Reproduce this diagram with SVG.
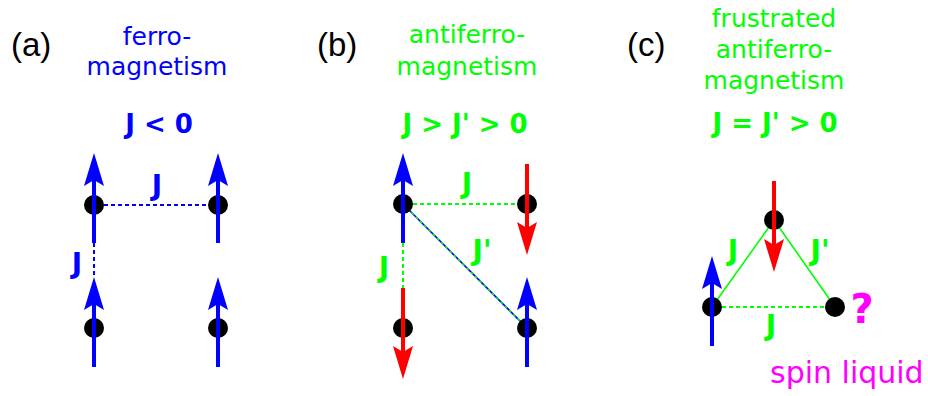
<svg xmlns="http://www.w3.org/2000/svg" width="928" height="396" viewBox="0 0 928 396">
<style>
text{font-family:"DejaVu Sans","Verdana",sans-serif;}
.lab{font-family:"Liberation Sans",Arial,sans-serif;font-size:33px;fill:#000;}
.hd{font-size:25px;text-anchor:middle;}
.eq{font-size:26px;font-weight:bold;text-anchor:middle;}
.j{font-size:28px;font-weight:bold;text-anchor:middle;}
.b{fill:#0000ff;}
.g{fill:#00ff00;}
.m{fill:#ff00ff;}
.dot{fill:#000;}
.shB{stroke:#0000ff;stroke-width:4;}
.shR{stroke:#ff0000;stroke-width:4;}
.dB{stroke:#0000ff;stroke-width:2;stroke-dasharray:4 3;fill:none;}
.dG{stroke:#00ff00;stroke-width:2;stroke-dasharray:4 3;fill:none;}
.sG{stroke:#00ff00;stroke-width:1.6;fill:none;}
</style>
<defs>
<path id="headUp" d="M0,0 L10,33 L0,27 L-10,33 Z"/>
<g id="upB"><line x1="0" y1="20" x2="0" y2="90" class="shB"/><use href="#headUp" fill="#0000ff"/></g>
<g id="downR"><line x1="0" y1="0" x2="0" y2="70" class="shR"/><use href="#headUp" fill="#ff0000" transform="translate(0,91) rotate(180)"/></g>
</defs>

<g id="connectors">
<line class="dB" x1="104" y1="205" x2="208" y2="205"/>
<line class="dB" x1="94" y1="243" x2="94" y2="278"/>
<line class="dG" x1="413" y1="204" x2="517" y2="204"/>
<line class="dG" x1="403" y1="243" x2="403" y2="288"/>
<line x1="403" y1="204" x2="527" y2="328" stroke="#0000ff" stroke-width="1.6"/>
<line x1="403" y1="204" x2="527" y2="328" stroke="#00ff00" stroke-width="1.6" stroke-dasharray="3 3"/>
<line class="sG" x1="774" y1="220" x2="712" y2="307"/>
<line class="sG" x1="774" y1="220" x2="835" y2="307"/>
<line class="dG" x1="722" y1="307" x2="825" y2="307"/>
</g>

<g id="panel-a">
<text class="lab" x="11" y="56">(a)</text>
<text class="hd b" x="157" y="45">ferro-</text>
<text class="hd b" x="157" y="75">magnetism</text>
<text class="eq b" x="159" y="133">J &lt; 0</text>
<text class="j b" x="157" y="195">J</text>
<text class="j b" x="77" y="273">J</text>
</g>
<g id="a-spin-tl"><circle class="dot" cx="94" cy="205" r="10"/><use href="#upB" x="94" y="153"/></g>
<g id="a-spin-tr"><circle class="dot" cx="218" cy="205" r="10"/><use href="#upB" x="218" y="153"/></g>
<g id="a-spin-bl"><circle class="dot" cx="94" cy="328" r="10"/><use href="#upB" x="94" y="277"/></g>
<g id="a-spin-br"><circle class="dot" cx="218" cy="328" r="10"/><use href="#upB" x="218" y="277"/></g>

<g id="panel-b">
<text class="lab" x="317" y="56">(b)</text>
<text class="hd g" x="467" y="43">antiferro-</text>
<text class="hd g" x="467" y="75">magnetism</text>
<text class="eq g" x="465" y="133">J &gt; J' &gt; 0</text>
<text class="j g" x="467" y="193">J</text>
<text class="j g" x="482" y="260">J'</text>
<text class="j g" x="384" y="277">J</text>
</g>
<g id="b-spin-tl"><circle class="dot" cx="403" cy="204" r="10"/><use href="#upB" x="403" y="153"/></g>
<g id="b-spin-tr"><circle class="dot" cx="527" cy="204" r="10"/><use href="#downR" x="527" y="164"/></g>
<g id="b-spin-bl"><circle class="dot" cx="403" cy="328" r="10"/><use href="#downR" x="403" y="288"/></g>
<g id="b-spin-br"><circle class="dot" cx="527" cy="328" r="10"/><use href="#upB" x="527" y="277"/></g>

<g id="panel-c">
<text class="lab" x="627" y="56">(c)</text>
<text class="hd g" x="774" y="27">frustrated</text>
<text class="hd g" x="774" y="58">antiferro-</text>
<text class="hd g" x="774" y="89">magnetism</text>
<text class="eq g" x="775" y="132">J = J' &gt; 0</text>
<text class="j g" x="733" y="260">J</text>
<text class="j g" x="820" y="260">J'</text>
<text class="j g" x="771" y="335">J</text>
<text x="862" y="323" class="m" style="font-size:40px;font-weight:bold;text-anchor:middle">?</text>
<text x="770" y="383" class="m" style="font-size:30px">spin liquid</text>
</g>
<g id="c-spin-top"><circle class="dot" cx="774" cy="220" r="10"/><use href="#downR" x="774" y="181"/></g>
<g id="c-spin-left"><circle class="dot" cx="712" cy="307" r="10"/><use href="#upB" x="712" y="256"/></g>
<g id="c-spin-right"><circle class="dot" cx="835" cy="307" r="10"/></g>
</svg>
